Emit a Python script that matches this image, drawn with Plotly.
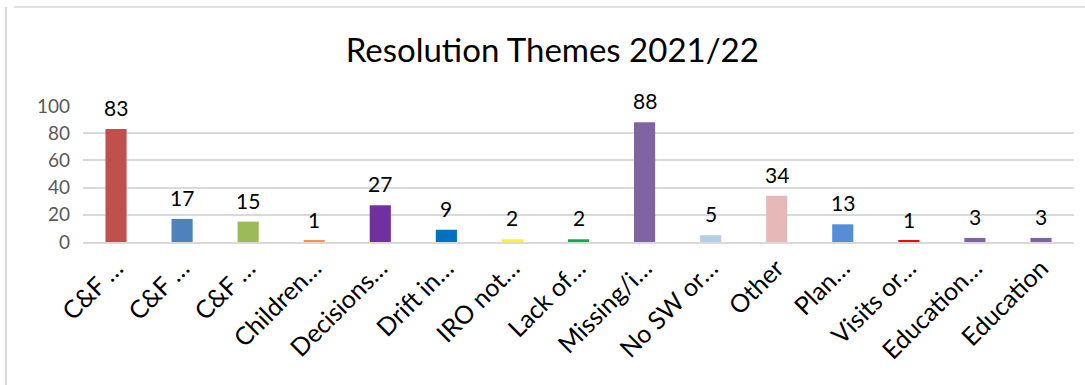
import plotly.graph_objects as go

# Resolution themes and their counts for 2021/22
categories = ["C&F …", "C&F …", "C&F …", "Children…", "Decisions…", "Drift in…",
              "IRO not…", "Lack of…", "Missing/i…", "No SW or…", "Other", "Plan…",
              "Visits or…", "Education…", "Education"]
counts = [83, 17, 15, 1, 27, 9, 2, 2, 88, 5, 34, 13, 1, 3, 3]
bar_colors = ["#C0504D", "#4F81BD", "#9BBB59", "#F79646", "#7030A0", "#0070C0",
              "#FFFF00", "#00B050", "#8064A2", "#B9CDE5", "#E6B9B8", "#558ED5",
              "#FF0000", "#8064A2", "#8064A2"]
y_ticks = [0, 20, 40, 60, 80, 100]

FONT = "Lato, Calibri, sans-serif"
positions = list(range(len(categories)))

fig = go.Figure(go.Bar(
    x=positions, y=counts, marker_color=bar_colors, marker_line_width=0,
    width=0.32, hoverinfo="x+y",
))

# value labels above each bar
for xi, v in zip(positions, counts):
    fig.add_annotation(x=xi, y=v, text=str(v), showarrow=False, yanchor="bottom",
                       yshift=7, font=dict(family=FONT, size=21, color="#000000"))

fig.update_layout(
    width=1085, height=385,
    margin=dict(l=83, r=11, t=106, b=143, autoexpand=False),
    paper_bgcolor="white", plot_bgcolor="white",
    showlegend=False,
    title=dict(text="Resolution Themes 2021/22", x=0.509, xanchor="center",
               y=0.87, yanchor="middle",
               font=dict(family=FONT, size=33, color="#000000")),
    xaxis=dict(tickmode="array", tickvals=positions, ticktext=categories,
               range=[-0.5, len(categories) - 0.5], tickangle=-45,
               showgrid=False, showline=True, linecolor="#D9D9D9", linewidth=1.5,
               ticks="", ticklen=0, automargin=False,
               tickfont=dict(family=FONT, size=25, color="#000000")),
    yaxis=dict(range=[0, 100], tickvals=y_ticks, showgrid=True,
               gridcolor="#D9D9D9", gridwidth=1.5, zeroline=False,
               ticks="", ticklabelstandoff=12, automargin=False,
               tickfont=dict(family=FONT, size=19, color="#595959")),
)

# chart frame: left and top edges
fig.add_shape(type="line", xref="paper", yref="paper",
              x0=-0.07, x1=1.02, y0=1.0 + 99 / 136, y1=1.0 + 99 / 136,
              line=dict(color="#D9D9D9", width=1.5))
fig.add_shape(type="line", xref="paper", yref="paper",
              x0=(6 - 83) / 991, x1=(6 - 83) / 991, y0=-143 / 136, y1=1 + 99 / 136,
              line=dict(color="#D9D9D9", width=2))

fig.write_html("out.html")
